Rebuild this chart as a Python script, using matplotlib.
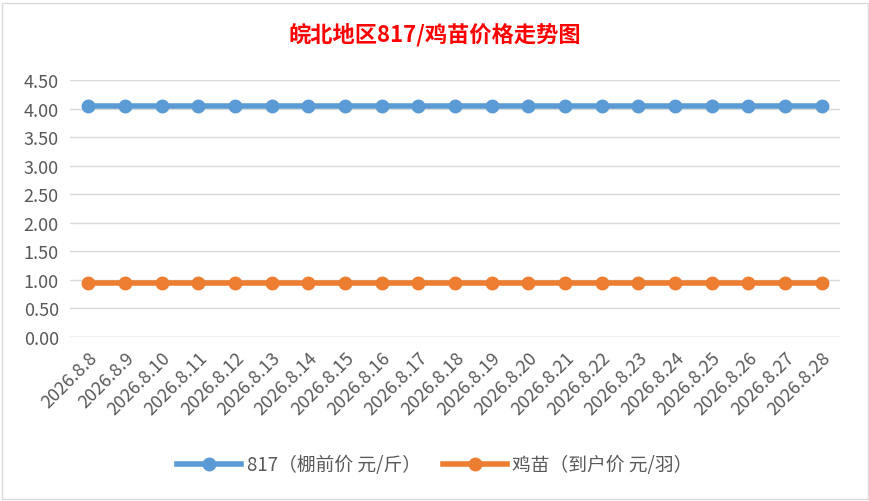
import matplotlib
matplotlib.use("Agg")
import matplotlib.pyplot as plt

plt.rcParams['font.family'] = ['Noto Sans CJK SC', 'DejaVu Sans']

dates = ["2026.8.%d" % d for d in range(8, 29)]
price_817 = [4.05] * 21
price_chick = [0.95] * 21

blue = '#5b9bd5'
orange = '#ed7d31'

fig = plt.figure(figsize=(8.7, 5.02), dpi=100)
# chart border like the spreadsheet chart frame
fig.add_artist(plt.Rectangle((2 / 870, 2 / 502), 866 / 870, 496 / 502, fill=False,
                             edgecolor='#d9d9d9', lw=1))
ax = fig.add_axes([70 / 870, 1 - 338 / 502, (840 - 70) / 870, (338 - 81) / 502])

xs = list(range(len(dates)))
ax.plot(xs, price_817, color=blue, lw=4, marker='o', ms=9, label='817（棚前价 元/斤）')
ax.plot(xs, price_chick, color=orange, lw=4, marker='o', ms=9, label='鸡苗（到户价 元/羽）')

ax.set_xlim(-0.5, len(dates) - 0.5)
ax.set_ylim(0, 4.5)
ax.set_yticks([i * 0.5 for i in range(10)])
ax.set_yticklabels(['%.2f' % (i * 0.5) for i in range(10)], fontsize=13, color='#595959')
ax.set_xticks(xs)
ax.set_xticklabels(dates, rotation=45, ha='right', rotation_mode='anchor', fontsize=13, color='#595959')
ax.tick_params(length=0, pad=8)
ax.grid(axis='y', color='#d9d9d9', lw=1)
ax.set_axisbelow(True)
for s in ax.spines.values():
    s.set_visible(False)
ax.axhline(0, color='#d9d9d9', lw=1)

fig.text(0.5, 1 - 35 / 502, '皖北地区817/鸡苗价格走势图', ha='center', va='center',
         fontsize=16, fontweight='bold', color='#ff0000')

fig.legend(loc='center', bbox_to_anchor=(0.5, 1 - 466 / 502), ncol=2, frameon=False,
           fontsize=13.5, handlelength=3.4, columnspacing=1.2, handletextpad=0.3,
           labelcolor='#595959')

fig.savefig('out.png', dpi=100)
